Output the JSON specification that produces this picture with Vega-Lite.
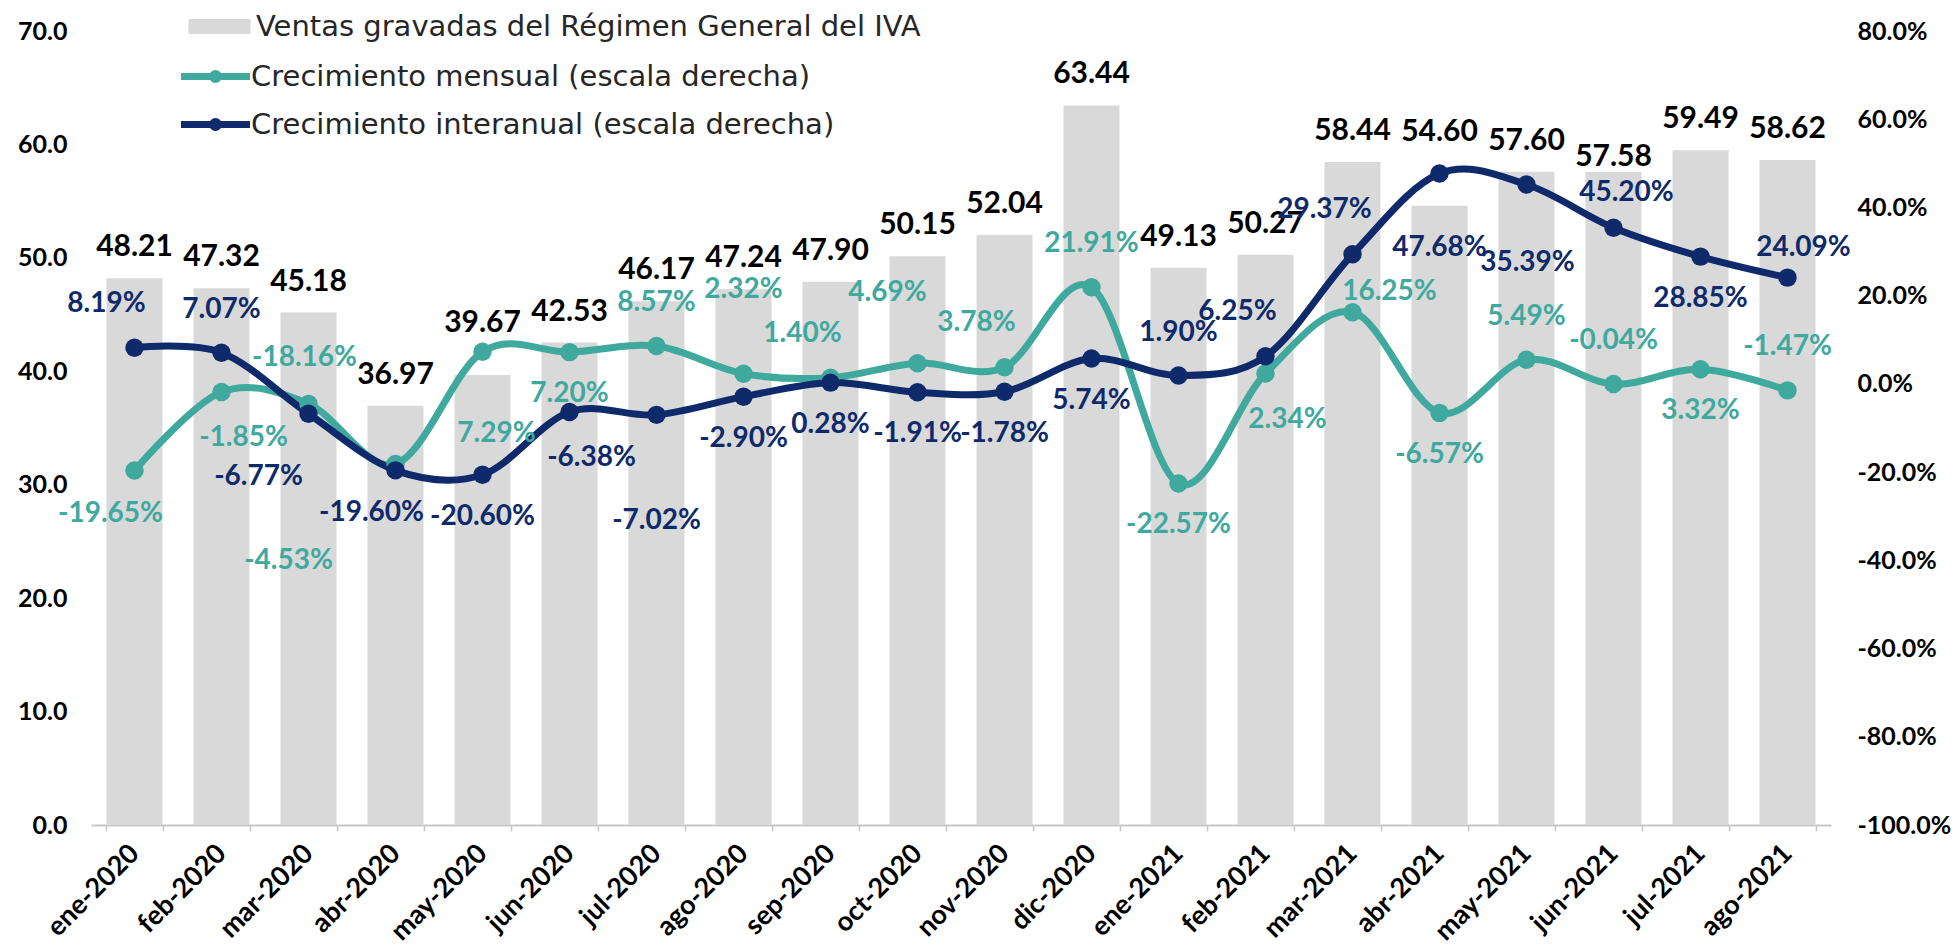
{
  "$schema": "https://vega.github.io/schema/vega-lite/v6.json",
  "width": 1740,
  "height": 794,
  "autosize": {"type": "none"},
  "padding": {"left": 91, "top": 31, "right": 128, "bottom": 124},
  "background": "white",
  "config": {
    "view": {"stroke": null},
    "font": "Lato",
    "locale": {"number": {"decimal": ".", "thousands": ",", "grouping": [3], "currency": ["$", ""], "minus": "-"}}
  },
  "datasets": {
    "ventas": [
      {"mes": "ene-2020", "ventas": 48.21},
      {"mes": "feb-2020", "ventas": 47.32},
      {"mes": "mar-2020", "ventas": 45.18},
      {"mes": "abr-2020", "ventas": 36.97},
      {"mes": "may-2020", "ventas": 39.67},
      {"mes": "jun-2020", "ventas": 42.53},
      {"mes": "jul-2020", "ventas": 46.17},
      {"mes": "ago-2020", "ventas": 47.24},
      {"mes": "sep-2020", "ventas": 47.90},
      {"mes": "oct-2020", "ventas": 50.15},
      {"mes": "nov-2020", "ventas": 52.04},
      {"mes": "dic-2020", "ventas": 63.44},
      {"mes": "ene-2021", "ventas": 49.13},
      {"mes": "feb-2021", "ventas": 50.27},
      {"mes": "mar-2021", "ventas": 58.44},
      {"mes": "abr-2021", "ventas": 54.60},
      {"mes": "may-2021", "ventas": 57.60},
      {"mes": "jun-2021", "ventas": 57.58},
      {"mes": "jul-2021", "ventas": 59.49},
      {"mes": "ago-2021", "ventas": 58.62}
    ],
    "crec": [
      {"mes": "ene-2020", "serie": "Crecimiento mensual (escala derecha)", "valor": -0.1965},
      {"mes": "feb-2020", "serie": "Crecimiento mensual (escala derecha)", "valor": -0.0185},
      {"mes": "mar-2020", "serie": "Crecimiento mensual (escala derecha)", "valor": -0.0453},
      {"mes": "abr-2020", "serie": "Crecimiento mensual (escala derecha)", "valor": -0.1816},
      {"mes": "may-2020", "serie": "Crecimiento mensual (escala derecha)", "valor": 0.0729},
      {"mes": "jun-2020", "serie": "Crecimiento mensual (escala derecha)", "valor": 0.0720},
      {"mes": "jul-2020", "serie": "Crecimiento mensual (escala derecha)", "valor": 0.0857},
      {"mes": "ago-2020", "serie": "Crecimiento mensual (escala derecha)", "valor": 0.0232},
      {"mes": "sep-2020", "serie": "Crecimiento mensual (escala derecha)", "valor": 0.0140},
      {"mes": "oct-2020", "serie": "Crecimiento mensual (escala derecha)", "valor": 0.0469},
      {"mes": "nov-2020", "serie": "Crecimiento mensual (escala derecha)", "valor": 0.0378},
      {"mes": "dic-2020", "serie": "Crecimiento mensual (escala derecha)", "valor": 0.2191},
      {"mes": "ene-2021", "serie": "Crecimiento mensual (escala derecha)", "valor": -0.2257},
      {"mes": "feb-2021", "serie": "Crecimiento mensual (escala derecha)", "valor": 0.0234},
      {"mes": "mar-2021", "serie": "Crecimiento mensual (escala derecha)", "valor": 0.1625},
      {"mes": "abr-2021", "serie": "Crecimiento mensual (escala derecha)", "valor": -0.0657},
      {"mes": "may-2021", "serie": "Crecimiento mensual (escala derecha)", "valor": 0.0549},
      {"mes": "jun-2021", "serie": "Crecimiento mensual (escala derecha)", "valor": -0.0004},
      {"mes": "jul-2021", "serie": "Crecimiento mensual (escala derecha)", "valor": 0.0332},
      {"mes": "ago-2021", "serie": "Crecimiento mensual (escala derecha)", "valor": -0.0147},
      {"mes": "ene-2020", "serie": "Crecimiento interanual (escala derecha)", "valor": 0.0819},
      {"mes": "feb-2020", "serie": "Crecimiento interanual (escala derecha)", "valor": 0.0707},
      {"mes": "mar-2020", "serie": "Crecimiento interanual (escala derecha)", "valor": -0.0677},
      {"mes": "abr-2020", "serie": "Crecimiento interanual (escala derecha)", "valor": -0.1960},
      {"mes": "may-2020", "serie": "Crecimiento interanual (escala derecha)", "valor": -0.2060},
      {"mes": "jun-2020", "serie": "Crecimiento interanual (escala derecha)", "valor": -0.0638},
      {"mes": "jul-2020", "serie": "Crecimiento interanual (escala derecha)", "valor": -0.0702},
      {"mes": "ago-2020", "serie": "Crecimiento interanual (escala derecha)", "valor": -0.0290},
      {"mes": "sep-2020", "serie": "Crecimiento interanual (escala derecha)", "valor": 0.0028},
      {"mes": "oct-2020", "serie": "Crecimiento interanual (escala derecha)", "valor": -0.0191},
      {"mes": "nov-2020", "serie": "Crecimiento interanual (escala derecha)", "valor": -0.0178},
      {"mes": "dic-2020", "serie": "Crecimiento interanual (escala derecha)", "valor": 0.0574},
      {"mes": "ene-2021", "serie": "Crecimiento interanual (escala derecha)", "valor": 0.0190},
      {"mes": "feb-2021", "serie": "Crecimiento interanual (escala derecha)", "valor": 0.0625},
      {"mes": "mar-2021", "serie": "Crecimiento interanual (escala derecha)", "valor": 0.2937},
      {"mes": "abr-2021", "serie": "Crecimiento interanual (escala derecha)", "valor": 0.4768},
      {"mes": "may-2021", "serie": "Crecimiento interanual (escala derecha)", "valor": 0.4520},
      {"mes": "jun-2021", "serie": "Crecimiento interanual (escala derecha)", "valor": 0.3539},
      {"mes": "jul-2021", "serie": "Crecimiento interanual (escala derecha)", "valor": 0.2885},
      {"mes": "ago-2021", "serie": "Crecimiento interanual (escala derecha)", "valor": 0.2409}
    ]
  },
  "encoding": {
    "x": {
      "field": "mes", "type": "nominal", "sort": null,
      "scale": {"paddingInner": 0.356, "paddingOuter": 0.178},
      "axis": {
        "title": null, "labelAngle": -45, "labelAlign": "right", "labelBaseline": "middle",
        "labelFont": "Lato", "labelFontSize": 27, "labelFontWeight": "bold", "labelColor": "#000000",
        "labelPadding": 18, "domainColor": "#c8c8c8", "domainWidth": 2,
        "tickColor": "#c8c8c8", "tickWidth": 1.5, "tickSize": 6, "tickBand": "extent", "grid": false
      }
    }
  },
  "layer": [
    {
      "data": {"name": "ventas"},
      "encoding": {
        "y": {
          "field": "ventas", "type": "quantitative",
          "scale": {"domain": [0, 70], "nice": false},
          "axis": {
            "title": null, "orient": "left", "values": [0, 10, 20, 30, 40, 50, 60, 70], "format": ".1f",
            "labelFont": "Lato", "labelFontSize": 25, "labelFontWeight": "bold", "labelColor": "#000000",
            "labelPadding": 24, "domain": false, "ticks": false, "grid": false
          }
        }
      },
      "layer": [
        {
          "mark": {"type": "bar"},
          "encoding": {
            "fill": {
              "datum": "Ventas gravadas del Régimen General del IVA",
              "scale": {"range": ["#d9d9d9"]},
              "legend": {
                "orient": "none", "legendX": 114, "legendY": -19, "title": null, "padding": 0,
                "symbolType": "M-3.1,-0.75L3.1,-0.75L3.1,0.75L-3.1,0.75Z", "symbolSize": 400,
                "symbolStrokeWidth": 0, "symbolOpacity": 1,
                "labelFont": "DejaVu Sans", "labelFontSize": 29, "labelColor": "#262626",
                "labelOffset": 22, "labelLimit": 1200
              }
            }
          }
        },
        {
          "transform": [{"filter": "indexof(['may-2020','abr-2021','jun-2021'], datum.mes) < 0"}],
          "mark": {"type": "text", "dy": -31, "align": "center", "baseline": "middle", "font": "Lato", "fontSize": 30, "fontWeight": "bold", "color": "#000000"},
          "encoding": {"text": {"field": "ventas", "type": "quantitative", "format": ".2f"}}
        },
        {
          "transform": [{"filter": "datum.mes == 'may-2020'"}],
          "mark": {"type": "text", "dy": -52, "align": "center", "baseline": "middle", "font": "Lato", "fontSize": 30, "fontWeight": "bold", "color": "#000000"},
          "encoding": {"text": {"field": "ventas", "type": "quantitative", "format": ".2f"}}
        },
        {
          "transform": [{"filter": "datum.mes == 'abr-2021'"}],
          "mark": {"type": "text", "dy": -74, "align": "center", "baseline": "middle", "font": "Lato", "fontSize": 30, "fontWeight": "bold", "color": "#000000"},
          "encoding": {"text": {"field": "ventas", "type": "quantitative", "format": ".2f"}}
        },
        {
          "transform": [{"filter": "datum.mes == 'jun-2021'"}],
          "mark": {"type": "text", "dy": -15, "align": "center", "baseline": "middle", "font": "Lato", "fontSize": 30, "fontWeight": "bold", "color": "#000000"},
          "encoding": {"text": {"field": "ventas", "type": "quantitative", "format": ".2f"}}
        }
      ]
    },
    {
      "data": {"name": "crec"},
      "encoding": {
        "y": {
          "field": "valor", "type": "quantitative",
          "scale": {"domain": [-1, 0.8], "nice": false, "zero": false},
          "axis": {
            "title": null, "orient": "right", "values": [-1, -0.8, -0.6, -0.4, -0.2, 0, 0.2, 0.4, 0.6, 0.8], "format": ".1%",
            "labelFont": "Lato", "labelFontSize": 25, "labelFontWeight": "bold", "labelColor": "#000000",
            "labelPadding": 26, "domain": false, "ticks": false, "grid": false
          }
        }
      },
      "layer": [
        {
          "transform": [{"filter": "datum.serie == 'Crecimiento mensual (escala derecha)'"}],
          "mark": {"type": "line", "interpolate": "cardinal", "strokeWidth": 7},
          "encoding": {
            "stroke": {
              "field": "serie", "type": "nominal",
              "scale": {"domain": ["Crecimiento mensual (escala derecha)", "Crecimiento interanual (escala derecha)"], "range": ["#3fa99e", "#0f2a6b"]},
              "legend": {
                "orient": "none", "legendX": 110, "legendY": 31, "title": null, "padding": 0,
                "symbolType": "M-3.45,0L3.45,0M-0.3,0A0.3,0.3 0 1,0 0.3,0A0.3,0.3 0 1,0 -0.3,0",
                "symbolSize": 400, "symbolStrokeWidth": 7,
                "labelFont": "DejaVu Sans", "labelFontSize": 29, "labelColor": "#262626",
                "labelOffset": 21, "rowPadding": 13, "labelLimit": 1200
              }
            }
          }
        },
        {
          "transform": [{"filter": "datum.serie == 'Crecimiento interanual (escala derecha)'"}],
          "mark": {"type": "line", "interpolate": "cardinal", "strokeWidth": 7},
          "encoding": {
            "stroke": {"field": "serie", "type": "nominal"}
          }
        },
        {
          "mark": {"type": "point", "filled": true, "size": 340, "opacity": 1},
          "encoding": {
            "color": {
              "field": "serie", "type": "nominal",
              "scale": {"domain": ["Crecimiento mensual (escala derecha)", "Crecimiento interanual (escala derecha)"], "range": ["#3fa99e", "#0f2a6b"]},
              "legend": null
            }
          }
        },
        {
          "transform": [{"filter": "(datum.serie == 'Crecimiento interanual (escala derecha)' && indexof(['may-2020','ago-2020','sep-2020','oct-2020','nov-2020','dic-2020','jul-2021'], datum.mes) >= 0) || (datum.serie == 'Crecimiento mensual (escala derecha)' && indexof(['jun-2020','ene-2021','abr-2021','jul-2021'], datum.mes) >= 0)"}],
          "mark": {"type": "text", "dx": 0, "dy": 42, "align": "center", "baseline": "middle", "font": "Lato", "fontSize": 28, "fontWeight": "bold"},
          "encoding": {"text": {"field": "valor", "type": "quantitative", "format": ".2%"}, "color": {"field": "serie", "type": "nominal", "legend": null}}
        },
        {
          "transform": [{"filter": "(datum.serie == 'Crecimiento interanual (escala derecha)' && indexof(['feb-2020','ene-2021'], datum.mes) >= 0) || (datum.serie == 'Crecimiento mensual (escala derecha)' && indexof(['jul-2020','dic-2020','may-2021','jun-2021','ago-2021'], datum.mes) >= 0)"}],
          "mark": {"type": "text", "dx": 0, "dy": -43, "align": "center", "baseline": "middle", "font": "Lato", "fontSize": 28, "fontWeight": "bold"},
          "encoding": {"text": {"field": "valor", "type": "quantitative", "format": ".2%"}, "color": {"field": "serie", "type": "nominal", "legend": null}}
        },
        {
          "transform": [{"filter": "(datum.serie == 'Crecimiento interanual (escala derecha)' && indexof(['ene-2020','feb-2021','mar-2021'], datum.mes) >= 0) || (datum.serie == 'Crecimiento mensual (escala derecha)' && indexof(['sep-2020','nov-2020'], datum.mes) >= 0)"}],
          "mark": {"type": "text", "dx": -28, "dy": -44, "align": "center", "baseline": "middle", "font": "Lato", "fontSize": 28, "fontWeight": "bold"},
          "encoding": {"text": {"field": "valor", "type": "quantitative", "format": ".2%"}, "color": {"field": "serie", "type": "nominal", "legend": null}}
        },
        {
          "transform": [{"filter": "(datum.serie == 'Crecimiento interanual (escala derecha)' && datum.mes == 'jun-2020') || (datum.serie == 'Crecimiento mensual (escala derecha)' && indexof(['feb-2020','feb-2021'], datum.mes) >= 0)"}],
          "mark": {"type": "text", "dx": 22, "dy": 46, "align": "center", "baseline": "middle", "font": "Lato", "fontSize": 28, "fontWeight": "bold"},
          "encoding": {"text": {"field": "valor", "type": "quantitative", "format": ".2%"}, "color": {"field": "serie", "type": "nominal", "legend": null}}
        },
        {
          "transform": [{"filter": "(datum.serie == 'Crecimiento interanual (escala derecha)' && datum.mes == 'abr-2020') || (datum.serie == 'Crecimiento mensual (escala derecha)' && datum.mes == 'ene-2020')"}],
          "mark": {"type": "text", "dx": -24, "dy": 43, "align": "center", "baseline": "middle", "font": "Lato", "fontSize": 28, "fontWeight": "bold"},
          "encoding": {"text": {"field": "valor", "type": "quantitative", "format": ".2%"}, "color": {"field": "serie", "type": "nominal", "legend": null}}
        },
        {
          "transform": [{"filter": "datum.serie == 'Crecimiento interanual (escala derecha)' && datum.mes == 'mar-2020'"}],
          "mark": {"type": "text", "dx": -50, "dy": 63, "align": "center", "baseline": "middle", "font": "Lato", "fontSize": 28, "fontWeight": "bold"},
          "encoding": {"text": {"field": "valor", "type": "quantitative", "format": ".2%"}, "color": {"field": "serie", "type": "nominal", "legend": null}}
        },
        {
          "transform": [{"filter": "datum.serie == 'Crecimiento interanual (escala derecha)' && datum.mes == 'jul-2020'"}],
          "mark": {"type": "text", "dx": 0, "dy": 106, "align": "center", "baseline": "middle", "font": "Lato", "fontSize": 28, "fontWeight": "bold"},
          "encoding": {"text": {"field": "valor", "type": "quantitative", "format": ".2%"}, "color": {"field": "serie", "type": "nominal", "legend": null}}
        },
        {
          "transform": [{"filter": "datum.serie == 'Crecimiento interanual (escala derecha)' && datum.mes == 'abr-2021'"}],
          "mark": {"type": "text", "dx": 0, "dy": 74, "align": "center", "baseline": "middle", "font": "Lato", "fontSize": 28, "fontWeight": "bold"},
          "encoding": {"text": {"field": "valor", "type": "quantitative", "format": ".2%"}, "color": {"field": "serie", "type": "nominal", "legend": null}}
        },
        {
          "transform": [{"filter": "datum.serie == 'Crecimiento interanual (escala derecha)' && datum.mes == 'may-2021'"}],
          "mark": {"type": "text", "dx": 100, "dy": 8, "align": "center", "baseline": "middle", "font": "Lato", "fontSize": 28, "fontWeight": "bold"},
          "encoding": {"text": {"field": "valor", "type": "quantitative", "format": ".2%"}, "color": {"field": "serie", "type": "nominal", "legend": null}}
        },
        {
          "transform": [{"filter": "datum.serie == 'Crecimiento interanual (escala derecha)' && datum.mes == 'jun-2021'"}],
          "mark": {"type": "text", "dx": -86, "dy": 35, "align": "center", "baseline": "middle", "font": "Lato", "fontSize": 28, "fontWeight": "bold"},
          "encoding": {"text": {"field": "valor", "type": "quantitative", "format": ".2%"}, "color": {"field": "serie", "type": "nominal", "legend": null}}
        },
        {
          "transform": [{"filter": "datum.serie == 'Crecimiento interanual (escala derecha)' && datum.mes == 'ago-2021'"}],
          "mark": {"type": "text", "dx": 16, "dy": -30, "align": "center", "baseline": "middle", "font": "Lato", "fontSize": 28, "fontWeight": "bold"},
          "encoding": {"text": {"field": "valor", "type": "quantitative", "format": ".2%"}, "color": {"field": "serie", "type": "nominal", "legend": null}}
        },
        {
          "transform": [{"filter": "datum.serie == 'Crecimiento mensual (escala derecha)' && datum.mes == 'oct-2020'"}],
          "mark": {"type": "text", "dx": -30, "dy": -70, "align": "center", "baseline": "middle", "font": "Lato", "fontSize": 28, "fontWeight": "bold"},
          "encoding": {"text": {"field": "valor", "type": "quantitative", "format": ".2%"}, "color": {"field": "serie", "type": "nominal", "legend": null}}
        },
        {
          "transform": [{"filter": "datum.serie == 'Crecimiento mensual (escala derecha)' && datum.mes == 'ago-2020'"}],
          "mark": {"type": "text", "dx": 0, "dy": -84, "align": "center", "baseline": "middle", "font": "Lato", "fontSize": 28, "fontWeight": "bold"},
          "encoding": {"text": {"field": "valor", "type": "quantitative", "format": ".2%"}, "color": {"field": "serie", "type": "nominal", "legend": null}}
        },
        {
          "transform": [{"filter": "datum.serie == 'Crecimiento mensual (escala derecha)' && datum.mes == 'mar-2020'"}],
          "mark": {"type": "text", "dx": -20, "dy": 157, "align": "center", "baseline": "middle", "font": "Lato", "fontSize": 28, "fontWeight": "bold"},
          "encoding": {"text": {"field": "valor", "type": "quantitative", "format": ".2%"}, "color": {"field": "serie", "type": "nominal", "legend": null}}
        },
        {
          "transform": [{"filter": "datum.serie == 'Crecimiento mensual (escala derecha)' && datum.mes == 'abr-2020'"}],
          "mark": {"type": "text", "dx": -91, "dy": -106, "align": "center", "baseline": "middle", "font": "Lato", "fontSize": 28, "fontWeight": "bold"},
          "encoding": {"text": {"field": "valor", "type": "quantitative", "format": ".2%"}, "color": {"field": "serie", "type": "nominal", "legend": null}}
        },
        {
          "transform": [{"filter": "datum.serie == 'Crecimiento mensual (escala derecha)' && datum.mes == 'may-2020'"}],
          "mark": {"type": "text", "dx": 14, "dy": 82, "align": "center", "baseline": "middle", "font": "Lato", "fontSize": 28, "fontWeight": "bold"},
          "encoding": {"text": {"field": "valor", "type": "quantitative", "format": ".2%"}, "color": {"field": "serie", "type": "nominal", "legend": null}}
        },
        {
          "transform": [{"filter": "datum.serie == 'Crecimiento mensual (escala derecha)' && datum.mes == 'mar-2021'"}],
          "mark": {"type": "text", "dx": 37, "dy": -20, "align": "center", "baseline": "middle", "font": "Lato", "fontSize": 28, "fontWeight": "bold"},
          "encoding": {"text": {"field": "valor", "type": "quantitative", "format": ".2%"}, "color": {"field": "serie", "type": "nominal", "legend": null}}
        }
      ]
    }
  ],
  "resolve": {"scale": {"y": "independent"}}
}
